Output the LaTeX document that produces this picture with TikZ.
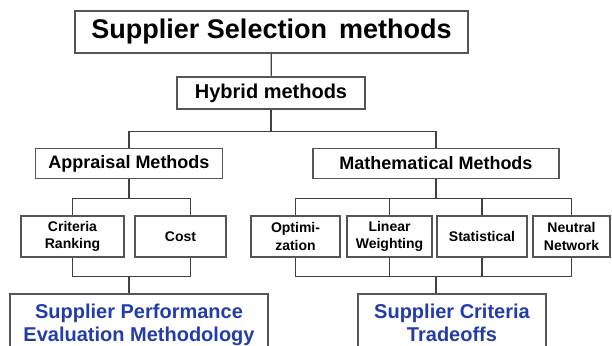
\documentclass[tikz,border=0pt]{standalone}
\usepackage{fontspec}
\setmainfont{Liberation Sans}
\definecolor{linegray}{RGB}{65,65,65}
\definecolor{boxgray}{RGB}{85,85,85}
\definecolor{resultblue}{RGB}{35,60,170}
\begin{document}
\begin{tikzpicture}[x=1pt,y=-1pt,
    box/.style={draw=boxgray,line width=1.2pt,inner sep=0pt,align=center,font=\bfseries},
    link/.style={draw=linegray,line width=1.2pt},
    levelone/.style={box,minimum height=30,font=\bfseries\fontsize{18}{22}\selectfont},
    leveltwo/.style={box,minimum height=41,font=\bfseries\fontsize{14}{17.5}\selectfont},
    result/.style={box,minimum height=61,text=resultblue,font=\bfseries\fontsize{20}{23}\selectfont}]
    \useasboundingbox (0,0) rectangle (612,345);
    \clip (0,0) rectangle (612,345);
    \node[box,minimum width=393,minimum height=42,font=\bfseries\fontsize{27}{32}\selectfont] (sel) at (271.5,32) {Supplier Selection\, methods};
    \node[box,minimum width=188,minimum height=32,font=\bfseries\fontsize{20}{24}\selectfont] (hyb) at (271,93) {Hybrid methods};
    \node[levelone,minimum width=187] (app) at (129,163.5) {Appraisal Methods};
    \node[levelone,minimum width=246] (mat) at (436,163.5) {Mathematical Methods};
    \node[leveltwo,minimum width=103] (crit) at (72.5,236.5) {Criteria\\Ranking};
    \node[leveltwo,minimum width=91] (cost) at (180.5,236.5) {Cost};
    \node[leveltwo,minimum width=89] (opt) at (295.5,236.5) {Optimi-\\zation};
    \node[leveltwo,minimum width=85] (lin) at (389.5,236.5) {Linear\\Weighting};
    \node[leveltwo,minimum width=90] (stat) at (482,236.5) {Statistical};
    \node[leveltwo,minimum width=77] (neu) at (571.5,236.5) {Neutral\\Network};
    \node[result,minimum width=258] (perf) at (139,324.5) {Supplier Performance\\Evaluation Methodology};
    \node[result,minimum width=188] (trade) at (452,324.5) {Supplier Criteria\\Tradeoffs\vphantom{y}};
    % top of the tree
    \draw[link] (sel) -- (hyb);
    \draw[link] (hyb.south) -- ++(0,22) coordinate (j1);
    \draw[link] (app.north) |- (j1) -| (mat.north);
    % appraisal branch
    \draw[link] (app.south) -- ++(0,19) coordinate (j2);
    \draw[link] (crit.north) |- (j2) -| ([xshift=10pt]cost.north);
    \draw[link] (crit.south) -- ++(0,19) coordinate (j3) -| ([xshift=10pt]cost.south);
    \draw[link] (j3 -| app) -- (perf.north -| app);
    % mathematical branch
    \draw[link] (mat.south) -- ++(0,19) coordinate (j4);
    \draw[link] (opt.north) |- (j4) -| (neu.north);
    \draw[link] (lin.north) -- (lin.north |- j4);
    \draw[link] (stat.north) -- (stat.north |- j4);
    \draw[link] (opt.south) -- ++(0,19) coordinate (j5) -| (neu.south);
    \draw[link] (lin.south) -- (lin.south |- j5);
    \draw[link] (stat.south) -- (stat.south |- j5);
    \draw[link] (j5 -| mat) -- (trade.north -| mat);
\end{tikzpicture}
\end{document}
